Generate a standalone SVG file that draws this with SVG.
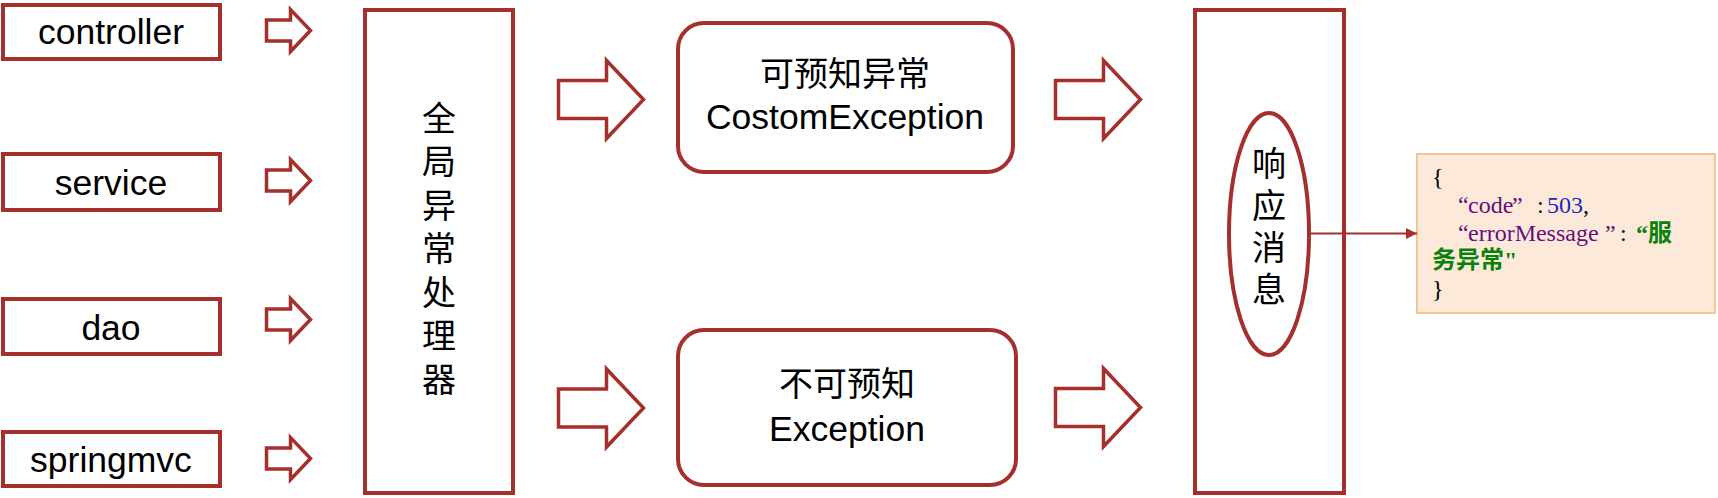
<svg xmlns="http://www.w3.org/2000/svg" xmlns:xlink="http://www.w3.org/1999/xlink" width="1718" height="498" viewBox="0 0 1718 498">
<style>
.box{fill:#ffffff;stroke:#a52f2b;stroke-width:4}
.arr{fill:#ffffff;stroke:#a52f2b;stroke-width:3.5;stroke-linejoin:miter}
.lbl{font-family:"Liberation Sans",Arial,sans-serif;font-size:35.5px;fill:#000;text-anchor:middle}
.cjk{font-family:"Noto Sans CJK SC","Liberation Sans",sans-serif;font-size:34px;fill:#000;text-anchor:middle}
.vt{font-family:"Noto Sans CJK SC",sans-serif;font-size:34px;fill:#000;writing-mode:vertical-rl;text-anchor:start}
.js{font-family:"Liberation Serif","Noto Sans CJK SC",serif;font-size:24px;fill:#000}
.pu{fill:#660e7a}
.bl{fill:#1c28c0}
.gr{fill:#0a820a;font-weight:bold;font-family:"Liberation Serif","Noto Sans CJK SC",serif}
</style>
<defs>
<path id="sa" d="M0,-10.5 H24 V-21 L44,0 L24,21 V10.5 H0 Z"/>
<path id="ba" d="M0,-19 H48 V-39 L85,0 L48,39 V19 H0 Z"/>
<marker id="tri" markerWidth="12" markerHeight="12" refX="11" refY="5.5" orient="auto" markerUnits="userSpaceOnUse">
<path d="M0,0 L11,5.5 L0,11 Z" fill="#a52f2b"/>
</marker>
</defs>
<rect width="1718" height="498" fill="#ffffff"/>
<g id="controller"><rect class="box" x="3" y="5" width="217" height="54"/><text class="lbl" x="111" y="44">controller</text></g>
<g id="service"><rect class="box" x="3" y="154" width="217" height="56"/><text class="lbl" x="111" y="195">service</text></g>
<g id="dao"><rect class="box" x="3" y="299" width="217" height="55"/><text class="lbl" x="111" y="340">dao</text></g>
<g id="springmvc"><rect class="box" x="3" y="432" width="217" height="54"/><text class="lbl" x="111" y="472">springmvc</text></g>
<g id="handler"><rect class="box" x="365" y="10" width="148" height="483"/>
<text class="vt" x="439" y="101" letter-spacing="9.5">全局异常处理器</text></g>
<g id="known"><rect class="box" x="678" y="23" width="335" height="149" rx="26"/><text class="cjk" x="845" y="86">可预知异常</text><text class="lbl" x="845" y="129">CostomException</text></g>
<g id="unknown"><rect class="box" x="678" y="330" width="338" height="155" rx="26"/><text class="cjk" x="847" y="396">不可预知</text><text class="lbl" x="847" y="441">Exception</text></g>
<g id="response"><rect class="box" x="1195" y="10" width="149" height="483"/><ellipse class="box" cx="1269" cy="234" rx="40" ry="121" stroke-width="3.5"/>
<text class="vt" x="1269" y="146" letter-spacing="8">响应消息</text></g>
<g id="json"><rect x="1417" y="154" width="298" height="159" fill="#fde9d9" stroke="#f4c597" stroke-width="2"/>
<text class="js" x="1432" y="185">{</text>
<text class="js" y="213"><tspan class="pu" x="1458">“</tspan><tspan class="pu" x="1468">code</tspan><tspan class="pu" x="1512">”</tspan><tspan x="1537">:</tspan><tspan class="bl" x="1547">503</tspan><tspan x="1583">,</tspan></text>
<text class="js" y="241"><tspan class="pu" x="1458">“</tspan><tspan class="pu" x="1468">errorMessage</tspan><tspan class="pu" x="1605">”</tspan><tspan x="1620">:</tspan><tspan class="gr" x="1636">“服</tspan></text>
<text class="js gr" x="1432" y="268">务异常"</text>
<text class="js" x="1432" y="297">}</text>
</g>
<g id="connectors">
<use xlink:href="#sa" class="arr" x="266.5" y="30.5"/>
<use xlink:href="#sa" class="arr" x="266.5" y="180.5"/>
<use xlink:href="#sa" class="arr" x="266.5" y="319.5"/>
<use xlink:href="#sa" class="arr" x="266.5" y="458.5"/>
<use xlink:href="#ba" class="arr" x="558.5" y="99.5"/>
<use xlink:href="#ba" class="arr" x="558.5" y="408"/>
<use xlink:href="#ba" class="arr" x="1055.5" y="99.5"/>
<use xlink:href="#ba" class="arr" x="1055.5" y="407.5"/>
<line x1="1309" y1="233.5" x2="1417" y2="233.5" stroke="#a52f2b" stroke-width="2" marker-end="url(#tri)"/>
</g>
</svg>
